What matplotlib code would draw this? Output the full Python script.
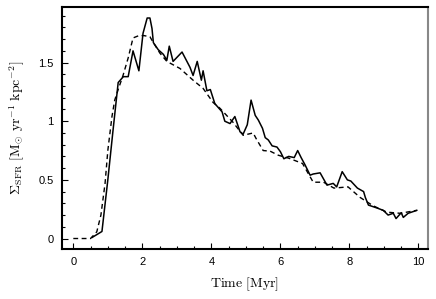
import matplotlib
matplotlib.use("Agg")
import matplotlib.pyplot as plt
from matplotlib.ticker import MultipleLocator, FormatStrFormatter

plt.rcParams['mathtext.fontset'] = 'cm'

# Simulation (solid line)
t_sim = [0.55, 0.83, 1.0, 1.15, 1.3, 1.45, 1.59, 1.73, 1.9, 2.02, 2.14, 2.22, 2.28,
         2.32, 2.46, 2.61, 2.71, 2.78, 2.89, 3.15, 3.38, 3.47, 3.59, 3.71, 3.76,
         3.87, 3.97, 4.1, 4.31, 4.39, 4.54, 4.68, 4.83, 4.92, 5.04, 5.15, 5.27,
         5.36, 5.48, 5.56, 5.65, 5.76, 5.9, 6.0, 6.1, 6.24, 6.4, 6.5, 6.6, 6.71,
         6.86, 6.95, 7.15, 7.35, 7.53, 7.63, 7.79, 7.94, 8.04, 8.23, 8.41, 8.46,
         8.55, 8.8, 8.98, 9.12, 9.27, 9.35, 9.5, 9.56, 9.7, 9.95]
sfr_sim = [0.01, 0.06, 0.5, 0.92, 1.33, 1.38, 1.38, 1.6, 1.43, 1.75, 1.88, 1.88, 1.79,
           1.67, 1.61, 1.57, 1.52, 1.64, 1.51, 1.59, 1.46, 1.39, 1.51, 1.35, 1.43,
           1.26, 1.27, 1.15, 1.08, 1.0, 0.98, 1.04, 0.91, 0.89, 0.97, 1.18, 1.05,
           1.01, 0.94, 0.86, 0.84, 0.79, 0.78, 0.74, 0.68, 0.70, 0.69, 0.75, 0.69,
           0.63, 0.54, 0.55, 0.56, 0.455, 0.47, 0.44, 0.57, 0.50, 0.49, 0.43, 0.40,
           0.35, 0.285, 0.26, 0.24, 0.20, 0.215, 0.17, 0.22, 0.18, 0.215, 0.24]

# Model (dashed line)
t_mod = [0.0, 0.5, 0.68, 0.8, 0.92, 1.0, 1.12, 1.2, 1.3, 1.44, 1.59, 1.73, 1.9, 2.05,
         2.22, 2.32, 2.51, 2.71, 3.09, 3.47, 3.76, 4.05, 4.25, 4.63, 4.92, 5.21, 5.3,
         5.5, 5.7, 5.94, 6.24, 6.64, 6.95, 7.25, 7.55, 7.96, 8.31, 8.68, 9.08, 9.47,
         9.95]
sfr_mod = [0.0, 0.0, 0.057, 0.2, 0.47, 0.75, 1.04, 1.18, 1.27, 1.39, 1.54, 1.71, 1.73,
           1.73, 1.72, 1.67, 1.58, 1.51, 1.45, 1.35, 1.28, 1.16, 1.11, 0.99, 0.88,
           0.90, 0.85, 0.75, 0.745, 0.71, 0.685, 0.64, 0.48, 0.48, 0.43, 0.44, 0.35,
           0.28, 0.225, 0.215, 0.24]

fig = plt.figure(figsize=(4.36, 2.99), dpi=100)
ax = fig.add_axes([0.142, 0.167, 0.84, 0.81])

ax.plot(t_sim, sfr_sim, color='black', lw=1.1)
ax.plot(t_mod, sfr_mod, color='black', lw=1.0, ls=(0, (3.5, 2.5)))

ax.set_xlim(-0.33, 10.28)
ax.set_ylim(-0.09, 1.975)

ax.xaxis.set_major_locator(MultipleLocator(2))
ax.xaxis.set_minor_locator(MultipleLocator(0.5))
ax.yaxis.set_major_locator(MultipleLocator(0.5))
ax.yaxis.set_minor_locator(MultipleLocator(0.1))
ax.yaxis.set_major_formatter(FormatStrFormatter('%g'))
ax.tick_params(which='both', direction='in', top=False, right=False,
               labelsize=8, width=0.8)
ax.tick_params(which='major', length=4, pad=6)
ax.tick_params(which='minor', length=2)
for lab in ax.get_xticklabels() + ax.get_yticklabels():
    lab.set_family('Liberation Sans')

for s in ['left', 'bottom', 'top']:
    ax.spines[s].set_linewidth(1.5)
ax.spines['right'].set_color('#888888')
ax.spines['right'].set_linewidth(1.5)

ax.set_xlabel(r'$\mathrm{Time\ [Myr]}$', fontsize=10, labelpad=6)
ax.set_ylabel(r'$\Sigma_{\mathrm{SFR}}\ [\mathrm{M}_{\odot}\ \mathrm{yr}^{-1}\ \mathrm{kpc}^{-2}]$',
              fontsize=10, labelpad=8)

fig.savefig('out.png', dpi=100)
